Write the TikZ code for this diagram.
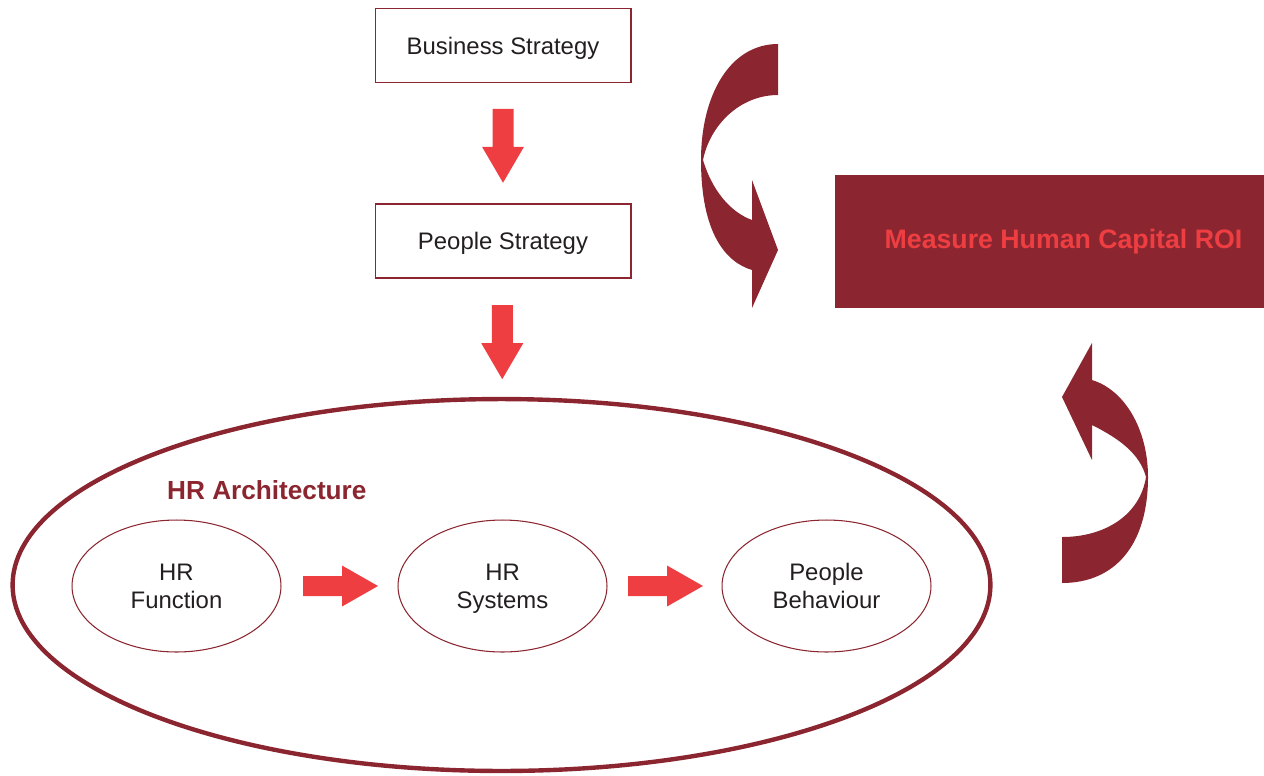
\documentclass[tikz,border=0pt]{standalone}
\usepackage{fontspec}
\setmainfont{Liberation Sans}
\usetikzlibrary{shapes.geometric,calc}

\definecolor{hrdark}{RGB}{139,38,48}
\definecolor{hrred}{RGB}{239,62,66}
\definecolor{hrtext}{RGB}{35,31,32}

\tikzset{
  stratbox/.style={draw=hrdark, line width=0.6pt, minimum width=5.12cm, minimum height=1.48cm, text depth=0pt, text=hrtext, font=\fontsize{13.6}{15.9}\selectfont},
  hrell/.style={ellipse, draw=hrdark, line width=0.6pt, minimum width=4.18cm, minimum height=2.64cm, align=center, text depth=0pt, text=hrtext, font=\fontsize{13.6}{15.9}\selectfont},
  pics/downblock/.style={code={\fill[hrred] (-10.5,-37) -- (10.5,-37) -- (10.5,1) -- (21,1) -- (0,37) -- (-21,1) -- (-10.5,1) -- cycle;}},
  pics/rightblock/.style={code={\fill[hrred] (-37.5,-10) -- (1.5,-10) -- (1.5,-20.5) -- (37.5,0) -- (1.5,20.5) -- (1.5,10) -- (-37.5,10) -- cycle;}}
}

\begin{document}
\begin{tikzpicture}[x=0.02cm, y=-0.02cm]

\useasboundingbox (0,0) rectangle (1264,775);

%strategy boxes
\node [stratbox] (bizstrat) at (503,45.5) {Business Strategy};
\node [stratbox] (peoplestrat) at (503,241) {People Strategy};

%hr architecture
\node [ellipse, draw=hrdark, line width=2.5pt, minimum width=19.56cm, minimum height=7.44cm] (archell) at (501.5,585) {};
\node [anchor=west, text=hrdark, font=\fontsize{14.9}{18}\selectfont\bfseries] (archlabel) at (161,490) {HR Architecture};

\node [hrell] (hrfunc) at (176.5,586) {HR\\Function};
\node [hrell] (hrsys) at (502.5,586) {HR\\Systems};
\node [hrell] (behav) at (826.5,586) {People\\Behaviour};

%block arrows
\pic at ($(bizstrat.south)!0.5!(peoplestrat.north)+(0,2.5)$) {downblock};
\pic at ($(peoplestrat.south)!0.5!(archell.north)+(0,4.5)$) {downblock};
\pic at ($(hrfunc.east)!0.5!(hrsys.west)+(1,0)$) {rightblock};
\pic at ($(hrsys.east)!0.5!(behav.west)+(1,0)$) {rightblock};

%roi box
\node [fill=hrdark, minimum width=8.58cm, minimum height=2.66cm, inner sep=0pt] (roibox) at (1049.5,241.5) {};
\node [text=hrred, font=\fontsize{15.2}{18}\selectfont\bfseries] (roitext) at (1063.5,242) {Measure Human Capital ROI};

%curved arrows
\fill[hrdark] (778,44) .. controls (730,44) and (701,95) .. (701,160)
  .. controls (701,232) and (725,262) .. (752,270) -- (752,308) -- (778,250)
  -- (752,180) -- (752,220) .. controls (730,212) and (712,190) .. (703,160)
  .. controls (710,125) and (740,95) .. (778,95) -- cycle;

\fill[hrdark] (1092,343) -- (1062,397) -- (1092,460) -- (1092,425)
  .. controls (1122,440) and (1140,455) .. (1146,477)
  .. controls (1140,515) and (1105,537) .. (1062,537) -- (1062,583)
  .. controls (1115,583) and (1148,545) .. (1148,477)
  .. controls (1148,430) and (1125,390) .. (1092,380) -- cycle;

\end{tikzpicture}
\end{document}
